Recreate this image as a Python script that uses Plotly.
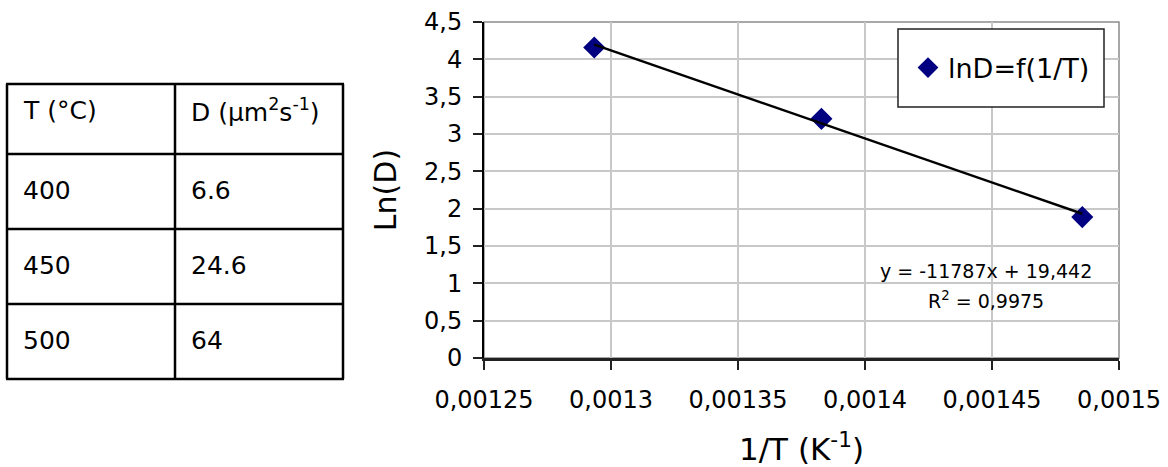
import math
import plotly.graph_objects as go

# ---- data ----
temps_C = [400, 450, 500]
D_values = [6.6, 24.6, 64]
temp_labels = ["400", "450", "500"]
D_labels = ["6.6", "24.6", "64"]
header = ["T (°C)", "D (µm<sup>2</sup>s<sup>-1</sup>)"]
fit_slope = [-11787]
fit_intercept = [19.442]
fit_r2 = ["0,9975"]
series_name = "lnD=f(1/T)"

inv_T = [1.0 / (t + 273.15) for t in temps_C]
ln_D = [math.log(d) for d in D_values]

# ---- layout geometry (pixels) ----
W, H = 1168, 467
PL, PR, PT, PB = 484, 1119, 22, 358

def xp(px):
    return (px - PL) / (PR - PL)

def yp(py):
    return (PB - py) / (PB - PT)

FONT = "DejaVu Sans"

fig = go.Figure()

fig.add_trace(go.Scatter(
    x=inv_T, y=ln_D, mode="markers", name=series_name,
    marker=dict(symbol="diamond", size=17, color="#000080", line=dict(width=0)),
    showlegend=True,
))

x_fit = [min(inv_T), max(inv_T)]
y_fit = [fit_slope[0] * x + fit_intercept[0] for x in x_fit]
fig.add_trace(go.Scatter(
    x=x_fit, y=y_fit, mode="lines", line=dict(color="black", width=2.5),
    showlegend=False, hoverinfo="skip",
))

shapes = []
shapes.append(dict(type="rect", xref="paper", yref="paper", x0=0, x1=1, y0=0, y1=1,
                   line=dict(color="#8c8c8c", width=1.5), layer="below"))
shapes.append(dict(type="rect", xref="paper", yref="paper",
                   x0=xp(898), x1=xp(1104), y0=yp(107), y1=yp(29),
                   line=dict(color="#222222", width=1.5), fillcolor="white", layer="above"))

tx = [7, 175, 343]
ty = [84, 154, 229, 304, 379]
for x in tx:
    shapes.append(dict(type="line", xref="paper", yref="paper",
                       x0=xp(x), x1=xp(x), y0=yp(ty[0]), y1=yp(ty[-1]),
                       line=dict(color="black", width=2.5)))
for y in ty:
    shapes.append(dict(type="line", xref="paper", yref="paper",
                       x0=xp(tx[0] - 1), x1=xp(tx[-1] + 1), y0=yp(y), y1=yp(y),
                       line=dict(color="black", width=2.5)))

annotations = []
col_x = [21, 189]
row_y = [111, 190, 265, 340]
for j, h in enumerate(header):
    annotations.append(dict(text=h, xref="paper", yref="paper", x=xp(col_x[j]), y=yp(row_y[0]),
                            xanchor="left", yanchor="middle", showarrow=False,
                            font=dict(family=FONT, size=25, color="black")))
for i in range(len(temp_labels)):
    annotations.append(dict(text=temp_labels[i], xref="paper", yref="paper", x=xp(col_x[0]),
                            y=yp(row_y[i + 1]), xanchor="left", yanchor="middle", showarrow=False,
                            font=dict(family=FONT, size=25, color="black")))
    annotations.append(dict(text=D_labels[i], xref="paper", yref="paper", x=xp(col_x[1]),
                            y=yp(row_y[i + 1]), xanchor="left", yanchor="middle", showarrow=False,
                            font=dict(family=FONT, size=25, color="black")))

eq = "y = %d" % fit_slope[0] + "x + " + ("%.3f" % fit_intercept[0]).replace(".", ",")
annotations.append(dict(text=eq, xref="paper", yref="paper", x=xp(986), y=yp(271),
                        xanchor="center", yanchor="middle", showarrow=False,
                        font=dict(family=FONT, size=19, color="black")))
annotations.append(dict(text="R<sup>2</sup> = " + fit_r2[0], xref="paper", yref="paper",
                        x=xp(986), y=yp(300), xanchor="center", yanchor="middle", showarrow=False,
                        font=dict(family=FONT, size=19, color="black")))

fig.update_layout(
    width=W, height=H,
    margin=dict(l=PL, r=W - PR, t=PT, b=H - PB, autoexpand=False),
    paper_bgcolor="white", plot_bgcolor="white",
    separators=", ",
    font=dict(family=FONT, size=24, color="black"),
    shapes=shapes, annotations=annotations,
    showlegend=True,
    legend=dict(x=xp(908), y=yp(68), xanchor="left", yanchor="middle",
                bgcolor="rgba(0,0,0,0)", borderwidth=0,
                font=dict(family=FONT, size=27, color="black")),
    xaxis=dict(
        range=[0.00125, 0.0015], tickmode="linear", tick0=0.00125, dtick=0.00005,
        exponentformat="none", showgrid=True, gridcolor="#c8c8c8", gridwidth=1.5,
        showline=True, linecolor="#222222", linewidth=2.5,
        ticks="outside", ticklen=9, tickwidth=2, tickcolor="#222222",
        tickfont=dict(family=FONT, size=24), zeroline=False,
        ticklabelstandoff=9,
        title=dict(text="1/T (K<sup>-1</sup>)", font=dict(family=FONT, size=31), standoff=28),
        automargin=False,
    ),
    yaxis=dict(
        range=[0, 4.5], tickmode="linear", tick0=0, dtick=0.5,
        showgrid=True, gridcolor="#c8c8c8", gridwidth=1.5,
        showline=True, linecolor="black", linewidth=2,
        ticks="outside", ticklen=9, tickwidth=2, tickcolor="#222222",
        tickfont=dict(family=FONT, size=24), zeroline=False,
        ticklabelstandoff=6,
        title=dict(text="Ln(D)", font=dict(family=FONT, size=30), standoff=19),
        automargin=False,
    ),
)

fig.write_html("out.html", config={"displayModeBar": False},
               post_script="document.body.style.margin='0';document.body.style.overflow='hidden';")
